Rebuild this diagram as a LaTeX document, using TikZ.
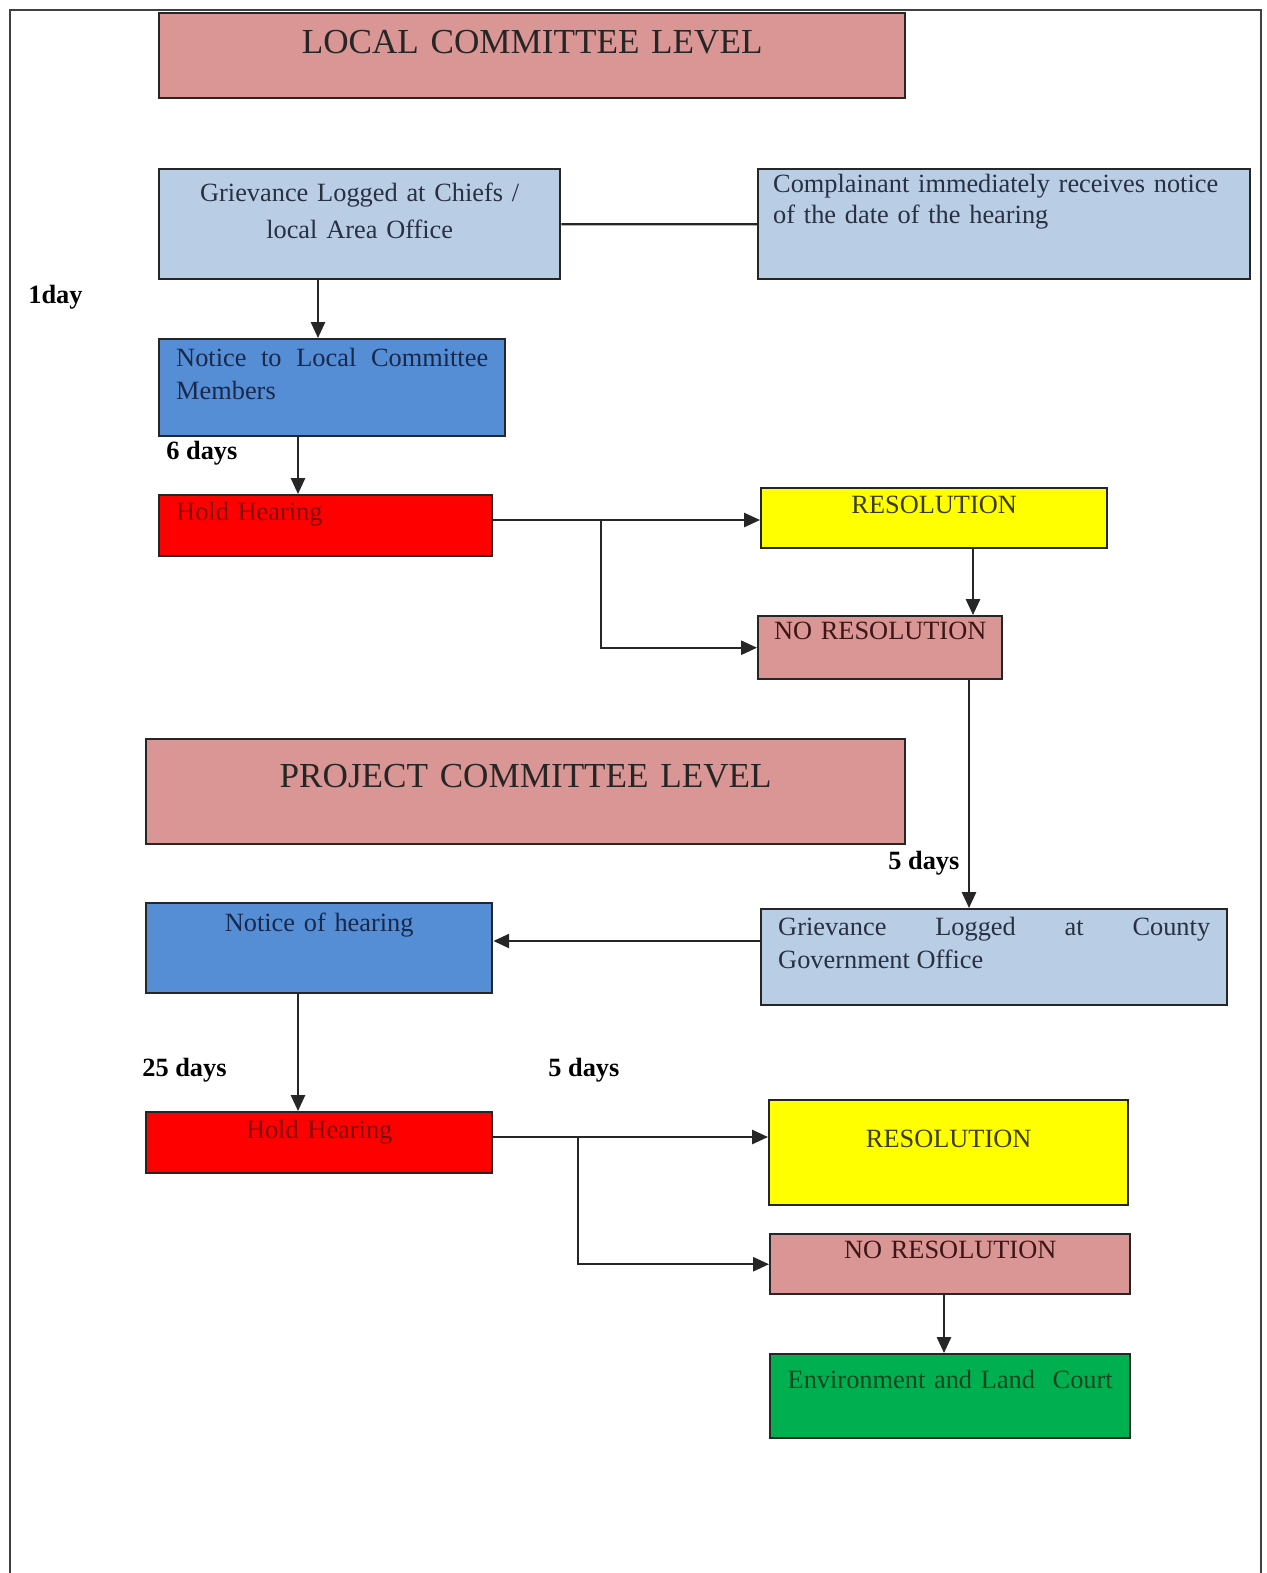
\documentclass[tikz,border=0pt]{standalone}
\usepackage{fontspec}
\setmainfont{Liberation Serif}
\usetikzlibrary{arrows.meta}
\definecolor{headpink}{RGB}{217,150,148}
\definecolor{paleblue}{RGB}{185,205,229}
\definecolor{midblue}{RGB}{85,142,213}
\definecolor{hearred}{RGB}{255,0,0}
\definecolor{resyellow}{RGB}{255,255,0}
\definecolor{courtgreen}{RGB}{0,176,80}
\definecolor{slatetext}{RGB}{40,48,66}
\definecolor{navytext}{RGB}{25,40,75}
\definecolor{maroontext}{RGB}{125,10,10}
\definecolor{olivetext}{RGB}{60,60,0}
\definecolor{winetext}{RGB}{60,22,22}
\definecolor{foresttext}{RGB}{10,70,30}
\hyphenpenalty=10000
\exhyphenpenalty=10000

\begin{document}
\begin{tikzpicture}[x=0.02cm, y=-0.02cm,
  stage/.style={draw=black!85, line width=1.4pt, anchor=north west, inner ysep=0pt, inner xsep=0pt, font=\fontsize{15}{18.8}\selectfont},
  tier/.style={stage, fill=headpink, text=black!85, align=center, font=\fontsize{20}{24}\selectfont},
  office/.style={stage, fill=paleblue, text=slatetext},
  notice/.style={stage, fill=midblue, text=navytext},
  hearing/.style={stage, fill=hearred, text=maroontext},
  outcome/.style={stage, fill=resyellow, text=olivetext, align=center},
  noout/.style={stage, fill=headpink, text=winetext, align=center},
  court/.style={stage, fill=courtgreen, text=foresttext, align=center},
  days/.style={anchor=base west, inner sep=0pt, font=\fontsize{15}{18}\selectfont\bfseries},
  link/.style={line width=1.25pt, draw=black!85},
  arr/.style={link, -{Triangle[length=9pt,width=8pt]}}
]
\useasboundingbox (0,0) rectangle (1267,1573);
\draw[black!75, line width=1pt] (10,1573) -- (10,10) -- (1261,10) -- (1261,1573);

% local committee
\node[tier, text width=14.92cm, text height=22.76pt, text depth=25.61pt] (lcl) at (158,12) {LOCAL COMMITTEE LEVEL};
\node[office, align=center, text width=8.02cm, text height=18.21pt, text depth=44.39pt, font=\fontsize{15}{21}\selectfont] (gl) at (158,168) {Grievance Logged at Chiefs /\\ local Area Office};
\node[office, align=left, inner xsep=0.3cm, text width=9.24cm, text height=13.09pt, text depth=49.51pt, font=\fontsize{15}{17.6}\selectfont] (cn) at (757,168) {Complainant immediately receives notice of the date of the hearing};
\node[notice, align=justify, inner xsep=0.34cm, text width=6.24cm, text height=15.36pt, text depth=39.83pt] (nl) at (158,338) {Notice to Local Committee Members};
\node[hearing, align=left, inner xsep=0.34cm, text width=5.98cm, text height=14.23pt, text depth=20.49pt] (hh) at (158,494) {Hold Hearing};
\node[outcome, text width=6.92cm, text height=14.23pt, text depth=19.92pt] (rs) at (760,487) {RESOLUTION};
\node[noout, text width=4.88cm, text height=13.09pt, text depth=22.76pt] (nr) at (757,615) {NO RESOLUTION};

% project committee
\node[tier, text width=15.18cm, text height=27.31pt, text depth=32.44pt] (pcl) at (145,738) {PROJECT COMMITTEE LEVEL};
\node[office, align=justify, inner xsep=0.34cm, text width=8.64cm, text height=14.80pt, text depth=39.83pt] (cg) at (760,908) {Grievance Logged at County Government Office};
\node[notice, align=center, text width=6.92cm, text height=15.93pt, text depth=35.28pt] (nh) at (145,902) {Notice of hearing};
\node[hearing, align=center, text width=6.92cm, text height=14.80pt, text depth=19.92pt] (hh2) at (145,1111) {Hold Hearing};
\node[outcome, text width=7.18cm, text height=26.75pt, text depth=33.01pt] (rs2) at (768,1099) {RESOLUTION};
\node[noout, text width=7.2cm, text height=13.66pt, text depth=20.49pt] (nr2) at (769,1233) {NO RESOLUTION};
\node[court, text width=7.2cm, text height=19.35pt, text depth=28.45pt] (ec) at (769,1353) {Environment and Land\ \ Court};

% time labels
\node[days] (d1) at (28,303) {1day};
\node[days] (d6) at (166,459) {6 days};
\node[days] (d5a) at (888,869) {5 days};
\node[days] (d25) at (142,1076) {25 days};
\node[days] (d5b) at (548,1076) {5 days};

% columns and branch points
\coordinate (c1) at (318,0);
\coordinate (c2) at (298,0);
\coordinate (c3) at (973,0);
\coordinate (c4) at (969,0);
\coordinate (c5) at (944,0);
\coordinate (r5) at (0,941);
\coordinate (b1) at (601,520);
\coordinate (b2) at (578,1137);

\draw[link] (gl.east) -- (cn.west);
\draw[arr] (gl.south -| c1) -- (nl.north -| c1);
\draw[arr] (nl.south -| c2) -- (hh.north -| c2);
\draw[link] (hh.east |- b1) -- (b1);
\draw[arr] (b1) -- (rs.west |- b1);
\draw[arr] (b1) |- (nr.west);
\draw[arr] (rs.south -| c3) -- (nr.north -| c3);
\draw[arr] (nr.south -| c4) -- (cg.north -| c4);
\draw[arr] (cg.west |- r5) -- (nh.east |- r5);
\draw[arr] (nh.south -| c2) -- (hh2.north -| c2);
\draw[link] (hh2.east |- b2) -- (b2);
\draw[arr] (b2) -- (rs2.west |- b2);
\draw[arr] (b2) |- (nr2.west);
\draw[arr] (nr2.south -| c5) -- (ec.north -| c5);
\end{tikzpicture}
\end{document}
